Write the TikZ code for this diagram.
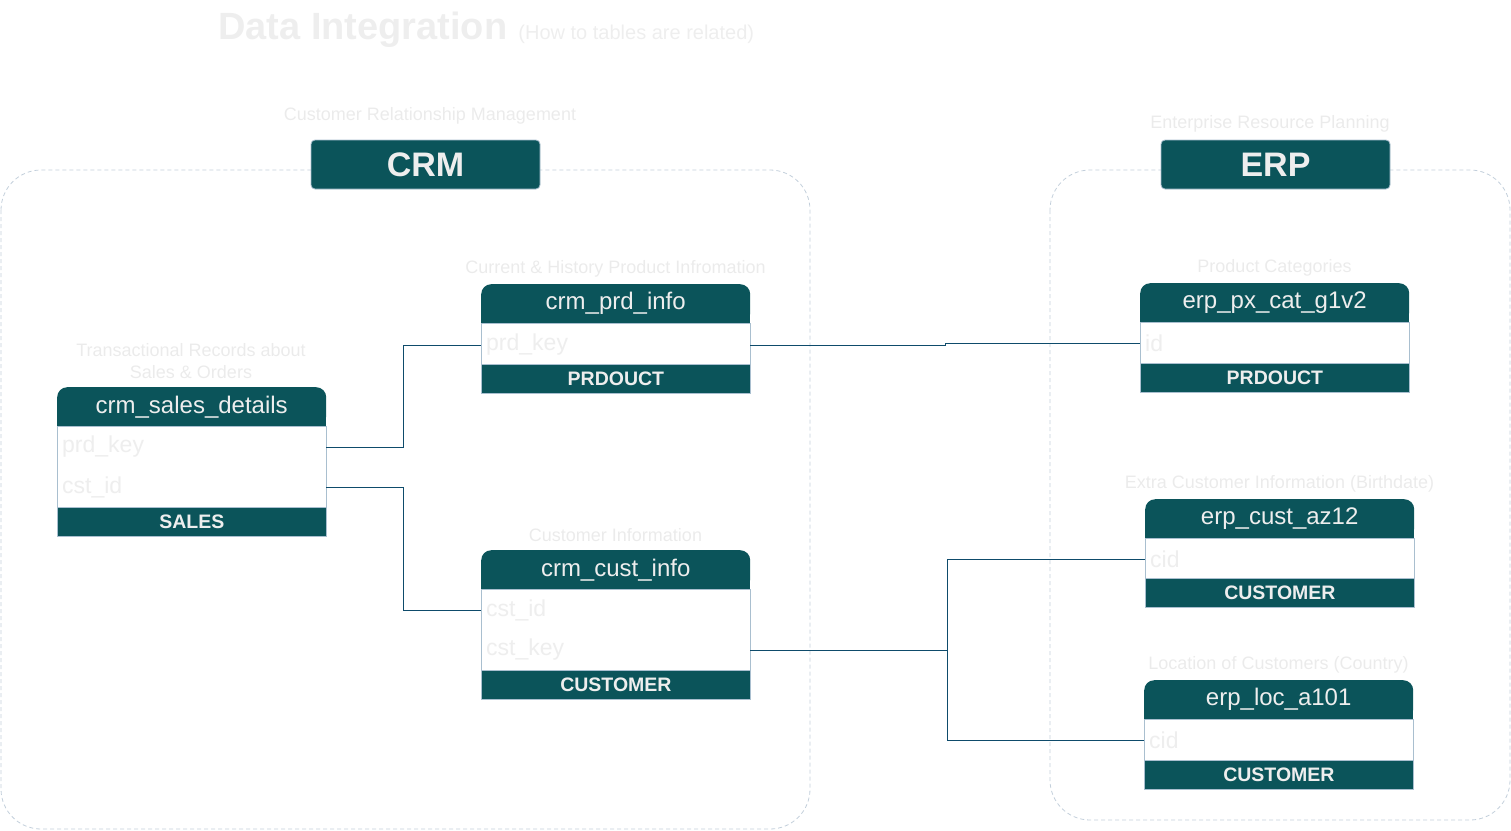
\documentclass[tikz,border=0pt]{standalone}
\usepackage{fontspec}
\setmainfont{Liberation Sans}
\definecolor{tealc}{HTML}{0B545A}
\definecolor{bordc}{HTML}{A9BFCF}
\definecolor{txtc}{HTML}{EEEEEE}
\definecolor{lblc}{HTML}{EBEBEB}
\definecolor{connc}{HTML}{0E4B6B}
\definecolor{dashc}{HTML}{C3CFDB}
\newcommand\dbtab[7]{% name, x, y, title, body height, footer, label
  \fill[tealc] (#2,#3+20) rectangle (#2+269,#3+39);
  \node[hdr] (#1) at (#2,#3) {#4};
  \node[bodyb, minimum height=#5] (#1-body) at (#2,#3+39) {};
  \node[ftr] (#1-ftr) at (#2,#3+39+#5) {#6};
  \node[lbl] (#1-lbl) at (#2+134.5,#3-15) {#7};
}
\begin{document}
\begin{tikzpicture}[x=1pt,y=-1pt,
  hdr/.style={fill=tealc, rounded corners=10pt, minimum width=269pt, minimum height=39pt,
    text=txtc, font=\fontsize{24}{26}\selectfont, inner sep=0pt, anchor=north west},
  bodyb/.style={fill=white, draw=bordc, line width=0.8pt, minimum width=269pt, inner sep=0pt, anchor=north west},
  ftr/.style={fill=tealc, draw=bordc, line width=0.8pt, minimum width=269pt, minimum height=29pt, inner sep=0pt,
    text=txtc, font=\fontsize{19.5}{21}\selectfont\bfseries, anchor=north west},
  rowt/.style={anchor=west, text width=259pt, inner xsep=5pt, inner ysep=0pt, minimum height=38pt,
    text=txtc, font=\fontsize{23}{25}\selectfont, align=left},
  lbl/.style={text=lblc, font=\fontsize{18}{22}\selectfont, inner sep=0pt, align=center},
  groupbox/.style={draw=dashc, dashed, dash pattern=on 4pt off 3pt, line width=0.8pt, rounded corners=40pt},
  gtitle/.style={fill=tealc, draw=bordc, line width=0.8pt, rounded corners=4pt, minimum width=229pt, minimum height=49pt,
    text=txtc, font=\fontsize{34}{36}\selectfont\bfseries, inner sep=0pt},
  conn/.style={draw=connc, line width=1pt}
]
\useasboundingbox (0,0) rectangle (1511,830);

% title
\node[anchor=base west, inner sep=0pt, text=txtc] (title) at (218,39)
  {{\fontsize{38}{40}\selectfont\bfseries Data Integration}\hspace{11pt}{\fontsize{20}{22}\selectfont (How to tables are related)}};

% group containers
\draw[groupbox] (1,170) rectangle (810,829);
\draw[groupbox] (1050,170) rectangle (1510,820);
\node[gtitle] (crm) at (425.5,164.5) {CRM};
\node[gtitle] (erp) at (1275.5,164.5) {ERP};
\node[lbl] (crmlbl) at (430,116) {Customer Relationship Management};
\node[lbl] (erplbl) at (1270,124) {Enterprise Resource Planning};

% tables
\dbtab{sales}{57}{387}{crm\_sales\_details}{81}{SALES}{}
\node[lbl] (saleslbl) at (191,361) {Transactional Records about\\Sales \& Orders};
\node[rowt] (sales-prd) at (57,447) {prd\_key};
\node[rowt] (sales-cst) at (57,487) {cst\_id};

\dbtab{prd}{481}{284}{crm\_prd\_info}{41}{PRDOUCT}{Current \& History Product Infromation}
\node[rowt] (prd-key) at (481,345) {prd\_key};

\dbtab{cust}{481}{550}{crm\_cust\_info}{81}{CUSTOMER}{Customer Information}
\node[rowt] (cust-id) at (481,610) {cst\_id};
\node[rowt] (cust-key) at (481,650) {cst\_key};

\dbtab{cat}{1140}{283}{erp\_px\_cat\_g1v2}{41}{PRDOUCT}{Product Categories}
\node[rowt] (cat-id) at (1140,343) {id};

\dbtab{az}{1145}{499}{erp\_cust\_az12}{40}{CUSTOMER}{Extra Customer Information (Birthdate)}
\node[rowt] (az-cid) at (1145,559) {cid};

\dbtab{loc}{1144}{680}{erp\_loc\_a101}{41}{CUSTOMER}{Location of Customers (Country)}
\node[rowt] (loc-cid) at (1144,740) {cid};

% connectors
\draw[conn] (sales-prd.east) -- ++(77,0) |- (prd-key.west);
\draw[conn] (sales-cst.east) -- ++(77,0) |- (cust-id.west);
\draw[conn] (prd-key.east) -- ++(195,0) |- (cat-id.west);
\draw[conn] (cust-key.east) -- ++(197,0) |- (az-cid.west);
\draw[conn] (cust-key.east) -- ++(197,0) |- (loc-cid.west);
\end{tikzpicture}
\end{document}
